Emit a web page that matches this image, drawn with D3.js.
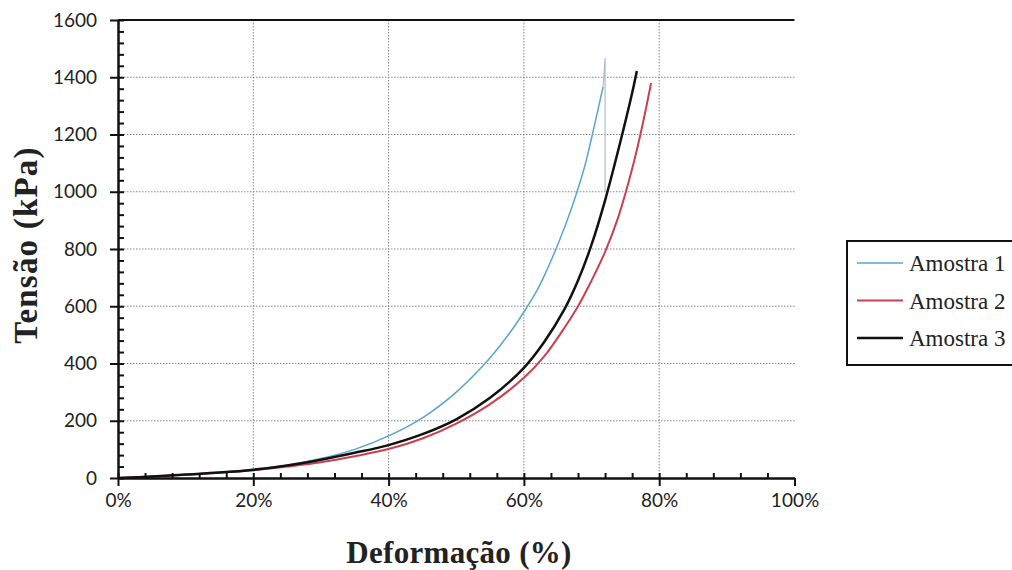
<!DOCTYPE html>
<html>
<head>
<meta charset="utf-8">
<script src="https://cdn.jsdelivr.net/npm/d3@7"></script>
<style>
  body { margin: 0; background: #fff; }
  svg { display: block; }
</style>
</head>
<body>
<script>
// strain (%) and stress (kPa)
var strain1 = [0, 5, 10, 15, 20, 25, 30, 35, 40, 45, 50, 55, 58, 60, 62, 63.5, 65, 67, 69, 70.5, 71.7, 72.0, 72.0];
var stress1 = [0, 5, 12, 20, 30, 45, 68, 100, 147, 210, 300, 420, 510, 580, 658, 732, 815, 940, 1090, 1240, 1366, 1467, 1000];

var strain2 = [0, 5, 10, 15, 20, 25, 30, 35, 40, 45, 50, 55, 60, 63, 66, 68, 70, 72, 74, 76, 77.5, 78.8];
var stress2 = [0, 5, 11, 18, 27, 40, 55, 76, 101, 138, 190, 258, 350, 425, 525, 600, 690, 790, 915, 1080, 1230, 1380];

var strain3 = [0, 5, 10, 15, 20, 25, 30, 35, 40, 45, 50, 55, 60, 63, 66, 68, 70, 72, 74, 76, 76.7];
var stress3 = [0, 5, 12, 19, 29, 44, 64, 88, 115, 153, 205, 280, 385, 475, 590, 690, 815, 970, 1150, 1345, 1422];

var seriesNames = ["Amostra 1", "Amostra 2", "Amostra 3"];
var seriesColors = ["#5aa5cf", "#c9404f", "#111111"];
var seriesWidths = [1.5, 2, 2.5];

var xTicks = [0, 20, 40, 60, 80, 100];
var yTicks = [0, 200, 400, 600, 800, 1000, 1200, 1400, 1600];

function init() {
    var width = 1012, height = 570;
    var left = 118, right = 794.5, top = 20, bottom = 478;

    var svg = d3.select("body").append("svg")
        .attr("width", width)
        .attr("height", height);

    var x = d3.scaleLinear().domain([0, 100]).range([left, right]);
    var y = d3.scaleLinear().domain([0, 1600]).range([bottom, top]);

    // dotted grid
    svg.append("g").selectAll("line")
        .data(yTicks.filter(function(d) { return d > 0 && d < 1600; }))
        .enter().append("line")
        .attr("x1", left).attr("x2", right)
        .attr("y1", function(d) { return y(d); })
        .attr("y2", function(d) { return y(d); })
        .attr("stroke", "#888")
        .attr("stroke-width", 1)
        .attr("stroke-dasharray", "1.5,1.5");

    svg.append("g").selectAll("line")
        .data(xTicks.filter(function(d) { return d > 0 && d < 100; }))
        .enter().append("line")
        .attr("y1", top).attr("y2", bottom)
        .attr("x1", function(d) { return x(d); })
        .attr("x2", function(d) { return x(d); })
        .attr("stroke", "#888")
        .attr("stroke-width", 1)
        .attr("stroke-dasharray", "1.5,1.5");

    // top border
    svg.append("line")
        .attr("x1", left).attr("x2", right)
        .attr("y1", y(1600)).attr("y2", y(1600))
        .attr("stroke", "#111").attr("stroke-width", 2);

    // curves
    var line = d3.line()
        .x(function(d) { return x(d[0]); })
        .y(function(d) { return y(d[1]); })
        .curve(d3.curveCatmullRom.alpha(0.5));
    var straight = d3.line()
        .x(function(d) { return x(d[0]); })
        .y(function(d) { return y(d[1]); });

    var series = [d3.zip(strain1, stress1), d3.zip(strain2, stress2), d3.zip(strain3, stress3)];
    series.forEach(function(data, i) {
        var main = i === 0 ? data.slice(0, data.length - 2) : data;
        svg.append("path")
            .datum(main)
            .attr("fill", "none")
            .attr("stroke", seriesColors[i])
            .attr("stroke-width", seriesWidths[i])
            .attr("d", line);
        if (i === 0) {
            // spike at failure
            svg.append("path")
                .datum(data.slice(data.length - 3))
                .attr("fill", "none")
                .attr("stroke", "#a9bfcf")
                .attr("stroke-width", 1.2)
                .attr("d", straight);
        }
    });

    var tickFont = "Lato, 'Open Sans', sans-serif";

    // y axis
    var yAxis = svg.append("g")
        .attr("transform", "translate(" + left + ",0)")
        .call(d3.axisLeft(y).tickValues(yTicks).tickSize(8).tickPadding(13)
            .tickFormat(d3.format("d")).tickSizeOuter(0));
    yAxis.selectAll("text").attr("font-family", tickFont).attr("font-size", 19).attr("fill", "#222");
    svg.append("g")
        .attr("transform", "translate(" + left + ",0)")
        .call(d3.axisRight(y).tickValues(d3.range(0, 1601, 40)).tickSize(6).tickFormat("").tickSizeOuter(0));

    // x axis
    var xAxis = svg.append("g")
        .attr("transform", "translate(0," + bottom + ")")
        .call(d3.axisBottom(x).tickValues(xTicks).tickSize(8).tickPadding(8)
            .tickFormat(function(d) { return d + "%"; }).tickSizeOuter(0));
    xAxis.selectAll("text").attr("font-family", tickFont).attr("font-size", 19).attr("fill", "#222");
    svg.append("g")
        .attr("transform", "translate(0," + bottom + ")")
        .call(d3.axisTop(x).tickValues(d3.range(0, 100, 4)).tickSize(5).tickFormat("").tickSizeOuter(0));

    svg.selectAll(".domain").attr("stroke", "#111").attr("stroke-width", 2);
    svg.selectAll(".tick line").attr("stroke", "#111").attr("stroke-width", 2);

    // axis titles
    svg.append("text")
        .attr("x", 459).attr("y", 563)
        .attr("text-anchor", "middle")
        .attr("font-family", "'Liberation Serif', serif")
        .attr("font-weight", "bold")
        .attr("font-size", 31)
        .attr("letter-spacing", 0.3)
        .attr("fill", "#222")
        .text("Deformação (%)");

    svg.append("text")
        .attr("transform", "translate(37,245) rotate(-90)")
        .attr("text-anchor", "middle")
        .attr("font-family", "'Liberation Serif', serif")
        .attr("font-weight", "bold")
        .attr("font-size", 33)
        .attr("letter-spacing", 1.2)
        .attr("fill", "#222")
        .text("Tensão (kPa)");

    // legend
    var legend = svg.append("g");
    legend.append("rect")
        .attr("x", 847).attr("y", 241)
        .attr("width", 200).attr("height", 124)
        .attr("fill", "none")
        .attr("stroke", "#111")
        .attr("stroke-width", 2);
    var rows = legend.selectAll("g.row")
        .data(seriesNames)
        .enter().append("g")
        .attr("class", "row")
        .attr("transform", function(d, i) { return "translate(0," + (263 + i * 37.5) + ")"; });
    rows.append("line")
        .attr("x1", 857).attr("x2", 903)
        .attr("stroke", function(d, i) { return seriesColors[i]; })
        .attr("stroke-width", function(d, i) { return seriesWidths[i]; });
    rows.append("text")
        .attr("x", 909).attr("dy", "0.35em")
        .attr("font-family", "'Liberation Serif', serif")
        .attr("font-size", 23)
        .attr("fill", "#222")
        .text(function(d) { return d; });
}

window.onload = init;
</script>
</body>
</html>
